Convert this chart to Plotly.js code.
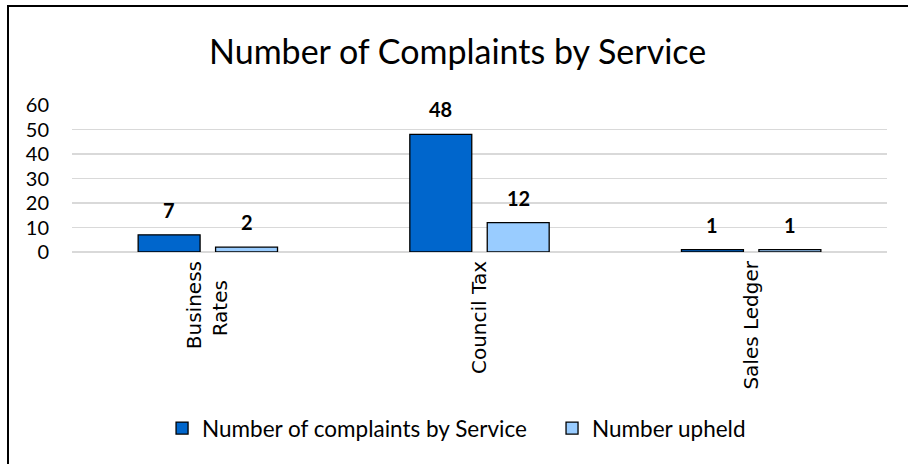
<!DOCTYPE html>
<html>
<head>
<meta charset="utf-8">
<script src="https://cdn.plot.ly/plotly-3.0.1.min.js"></script>
<style>
  html, body { margin: 0; padding: 0; background: #fff; }
  #wrap { position: relative; width: 908px; height: 464px; overflow: hidden; }
  #chart { position: absolute; left: 0; top: 0; width: 908px; height: 464px; }
  #frame { position: absolute; left: 7px; top: 5px; width: 920px; height: 480px;
           border-top: 2px solid #000; border-left: 2px solid #000; pointer-events: none; }
</style>
</head>
<body>
<div id="wrap">
  <div id="chart"></div>
  <div id="frame"></div>
</div>
<script>
const categories = ["Business Rates", "Council Tax", "Sales Ledger"];
const tickLabels = ["Business<br>Rates\u00a0\u00a0\u00a0", "Council Tax", "Sales Ledger"];
const complaints = [7, 48, 1];
const upheld = [2, 12, 1];
const seriesNames = ["Number of complaints by Service", "Number upheld"];
const yTicks = [0, 10, 20, 30, 40, 50, 60];

const calib = "Lato, 'Open Sans', sans-serif";

const traces = [
  { type: "bar", x: categories, y: complaints, name: seriesNames[0], legend: "legend",
    marker: { color: "#0066CC", line: { color: "#000", width: 1.3 } } },
  { type: "bar", x: categories, y: upheld, name: seriesNames[1], legend: "legend2",
    marker: { color: "#99CCFF", line: { color: "#000", width: 1.3 } } }
];

const annotations = [];
[complaints, upheld].forEach((vals, si) => {
  vals.forEach((v, i) => {
    annotations.push({
      x: categories[i], y: v, xref: "x", yref: "y",
      text: "<b>" + v + "</b>", showarrow: false,
      xshift: si === 0 ? -38.75 : 38.75, yshift: 25,
      yanchor: "middle",
      font: { family: calib, size: 20, color: "#000" }
    });
  });
});

const legendBase = { orientation: "h", xanchor: "left", y: -1.2, yanchor: "middle",
                     font: { family: calib, size: 22.5, color: "#000" }, itemwidth: 30,
                     bgcolor: "rgba(0,0,0,0)" };

const layout = {
  width: 908, height: 464,
  margin: { l: 72, r: 21, t: 105, b: 212, autoexpand: false },
  paper_bgcolor: "#fff", plot_bgcolor: "#fff",
  title: { text: "Number of Complaints by Service", xref: "container", yref: "container",
           x: 0.504, y: 0.888, xanchor: "center", yanchor: "middle",
           font: { family: calib, size: 34, color: "#000" } },
  barmode: "group", bargap: 0.43, bargroupgap: 0.2,
  xaxis: { type: "category", tickvals: categories, ticktext: tickLabels, tickangle: -90,
           showgrid: false, showline: false, ticks: "", zeroline: false, ticklabelstandoff: 4,
           automargin: false,
           tickfont: { family: "'DejaVu Sans', sans-serif", size: 20, color: "#000" } },
  yaxis: { range: [0, 60], tickvals: yTicks, showgrid: true, gridcolor: "#d9d9d9", gridwidth: 1.5,
           zeroline: true, zerolinecolor: "#d9d9d9", zerolinewidth: 1.5, automargin: false,
           showline: false, ticks: "", ticklabelstandoff: 22,
           tickfont: { family: calib, size: 20, color: "#000" } },
  showlegend: true,
  legend: Object.assign({}, legendBase, { x: 0.1105 }),
  legend2: Object.assign({}, legendBase, { x: 0.589 }),
  annotations: annotations
};

Plotly.newPlot("chart", traces, layout, { displayModeBar: false, staticPlot: true });
</script>
</body>
</html>
